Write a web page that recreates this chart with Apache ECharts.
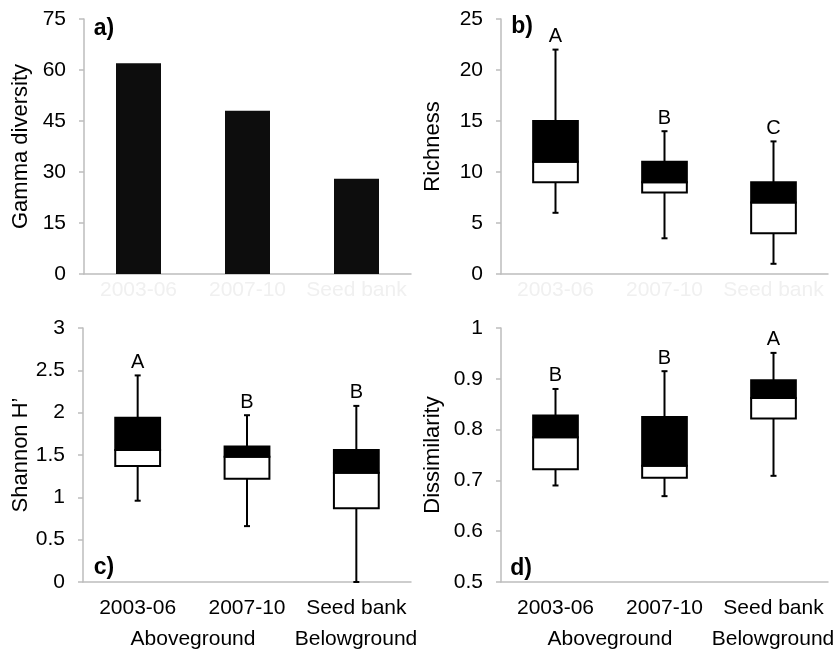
<!DOCTYPE html>
<html>
<head>
<meta charset="utf-8">
<script src="https://cdn.jsdelivr.net/npm/echarts@6/dist/echarts.min.js"></script>
<style>
html,body{margin:0;padding:0;background:#fff;}
#chart{width:838px;height:651px;}
</style>
</head>
<body>
<div id="chart"></div>
<script>
// ---- data ----
const categories = ['2003-06', '2007-10', 'Seed bank'];
const groupLabels = ['Aboveground', 'Belowground'];
const panelLabels = ['a)', 'b)', 'c)', 'd)'];
const yTitles = ['Gamma diversity', 'Richness', 'Shannon H\u2019', 'Dissimilarity'];

const gamma = [62, 48, 28];

// [low whisker, Q1, median, Q3, high whisker]
const richness = [[6, 9, 11, 15, 22], [3.5, 8, 9, 11, 14], [1, 4, 7, 9, 13]];
const richnessLetters = ['A', 'B', 'C'];

const shannon = [[0.96, 1.37, 1.56, 1.94, 2.44], [0.66, 1.22, 1.48, 1.60, 1.97], [0, 0.87, 1.29, 1.56, 2.08]];
const shannonLetters = ['A', 'B', 'B'];

const dissim = [[0.69, 0.722, 0.785, 0.828, 0.88], [0.669, 0.705, 0.729, 0.825, 0.915], [0.709, 0.822, 0.862, 0.897, 0.951]];
const dissimLetters = ['B', 'B', 'A'];

// axis ranges [min, max, interval]
const gammaAxis = [0, 75, 15];
const richnessAxis = [0, 25, 5];
const shannonAxis = [0, 3, 0.5];
const dissimAxis = [0.5, 1, 0.1];

// ---- chart ----
const FONT = '"Liberation Sans", Arial, Helvetica, sans-serif';
const AXIS_COLOR = '#bdbdbd';

const chart = echarts.init(document.getElementById('chart'), null, {renderer: 'canvas'});

const grids = [
  {left: 84, top: 19, width: 327, height: 255},
  {left: 501, top: 19, width: 327, height: 255},
  {left: 83, top: 328, width: 328, height: 254},
  {left: 501, top: 328, width: 327, height: 254}
];

function xAxisFor(gi, ghost) {
  return {
    type: 'category', gridIndex: gi, data: categories,
    axisLine: {lineStyle: {color: AXIS_COLOR, width: 1.5}},
    axisTick: {show: false},
    axisLabel: ghost
      ? {color: '#f0f0f0', fontFamily: FONT, fontSize: 21, margin: 6, interval: 0}
      : {color: '#000', fontFamily: FONT, fontSize: 21, margin: 16, interval: 0}
  };
}
function yAxisFor(gi, rng, title, gap) {
  return {
    type: 'value', gridIndex: gi, min: rng[0], max: rng[1], interval: rng[2],
    name: title, nameLocation: 'middle', nameGap: gap,
    nameTextStyle: {color: '#000', fontFamily: FONT, fontSize: 22},
    axisLine: {show: true, lineStyle: {color: AXIS_COLOR, width: 1.5}},
    axisTick: {show: true, length: 5, lineStyle: {color: AXIS_COLOR, width: 1.5}},
    splitLine: {show: false},
    axisLabel: {color: '#000', fontFamily: FONT, fontSize: 21, margin: 18}
  };
}

function boxData(stats) {
  return stats.map((s, i) => [i].concat(s));
}

function makeBoxRender(letters) {
  return function (params, api) {
    const i = api.value(0);
    const lo = api.value(1), q1 = api.value(2), med = api.value(3), q3 = api.value(4), hi = api.value(5);
    const x = api.coord([i, lo])[0];
    const w = api.size([1, 0])[0] * 0.41;
    const yLo = api.coord([i, lo])[1];
    const yQ1 = api.coord([i, q1])[1];
    const yMed = api.coord([i, med])[1];
    const yQ3 = api.coord([i, q3])[1];
    const yHi = api.coord([i, hi])[1];
    const ls = {stroke: '#000', lineWidth: 2};
    const cap = 3;
    return {
      type: 'group',
      children: [
        {type: 'line', shape: {x1: x, y1: yQ3, x2: x, y2: yHi}, style: ls},
        {type: 'line', shape: {x1: x - cap, y1: yHi, x2: x + cap, y2: yHi}, style: ls},
        {type: 'line', shape: {x1: x, y1: yQ1, x2: x, y2: yLo}, style: ls},
        {type: 'line', shape: {x1: x - cap, y1: yLo, x2: x + cap, y2: yLo}, style: ls},
        {type: 'rect', shape: {x: x - w / 2, y: yMed, width: w, height: yQ1 - yMed},
          style: {fill: '#fff', stroke: '#000', lineWidth: 2}},
        {type: 'rect', shape: {x: x - w / 2, y: yQ3, width: w, height: yMed - yQ3},
          style: {fill: '#000', stroke: '#000', lineWidth: 2}},
        {type: 'text', x: x, y: yHi - 13,
          style: {text: letters[params.dataIndex], fill: '#000', font: '20px ' + FONT,
            align: 'center', verticalAlign: 'middle'}}
      ]
    };
  };
}

function boxSeries(gi, stats, letters) {
  return {
    type: 'custom', xAxisIndex: gi, yAxisIndex: gi,
    data: boxData(stats),
    encode: {x: 0, y: [1, 2, 3, 4, 5]},
    renderItem: makeBoxRender(letters),
    clip: false
  };
}

function label(txt, x, y, bold, size) {
  return {
    type: 'text', x: x, y: y,
    style: {text: txt, fill: '#000', font: (bold ? 'bold ' : '') + size + 'px ' + FONT,
      align: 'center', verticalAlign: 'middle'}
  };
}

const option = {
  backgroundColor: '#fff',
  animation: false,
  grid: grids,
  xAxis: [xAxisFor(0, true), xAxisFor(1, true), xAxisFor(2, false), xAxisFor(3, false)],
  yAxis: [
    yAxisFor(0, gammaAxis, yTitles[0], 52),
    yAxisFor(1, richnessAxis, yTitles[1], 57),
    yAxisFor(2, shannonAxis, yTitles[2], 50),
    yAxisFor(3, dissimAxis, yTitles[3], 57)
  ],
  series: [
    {type: 'bar', xAxisIndex: 0, yAxisIndex: 0, data: gamma, barWidth: 45,
      itemStyle: {color: '#0d0d0d'}},
    boxSeries(1, richness, richnessLetters),
    boxSeries(2, shannon, shannonLetters),
    boxSeries(3, dissim, dissimLetters)
  ],
  graphic: [
    label(panelLabels[0], 104, 29, true, 23),
    label(panelLabels[1], 522, 27, true, 23),
    label(panelLabels[2], 104, 568, true, 23),
    label(panelLabels[3], 521, 569, true, 23),
    label(groupLabels[0], 193, 639, false, 21),
    label(groupLabels[1], 356, 639, false, 21),
    label(groupLabels[0], 610, 639, false, 21),
    label(groupLabels[1], 773, 639, false, 21)
  ]
};
chart.setOption(option);
</script>
</body>
</html>
